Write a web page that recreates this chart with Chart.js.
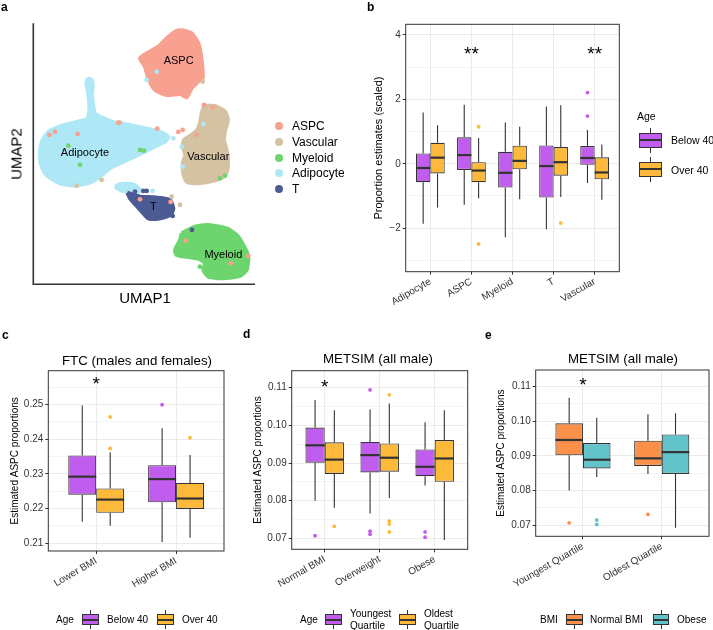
<!DOCTYPE html>
<html>
<head>
<title>ASPC proportions</title>
<script src="https://cdn.jsdelivr.net/npm/chart.js"></script>
<style>
    body { margin: 0; background: #fff; font-family: "Liberation Sans", Arial, sans-serif; }
    #fig { position: relative; width: 713px; height: 630px; overflow: hidden; }
    canvas { position: absolute; }
    .t { position: absolute; white-space: nowrap; color: #000; transform: translate(0, -50%); }
    .c { transform: translate(-50%, -50%); }
    .tag { font-weight: bold; font-size: 12px; }
    .dot { position: absolute; width: 8px; height: 8px; border-radius: 50%; margin: -4px 0 0 -4px; }
    .key { position: absolute; }
    .key .stem { position: absolute; left: 50%; top: 0; bottom: 0; width: 1px; margin-left: -0.5px; background: #333; }
    .key .box { position: absolute; left: 0; right: 0; box-sizing: border-box; border: 1px solid #333; }
    .key .med { position: absolute; left: 0; right: 0; top: 50%; height: 2px; margin-top: -1px; background: #333; }
</style>
</head>
<body>
<div id="fig">
    <canvas id="chartA" width="360" height="310" style="left:0;top:0"></canvas>
    <canvas id="chartB" width="353" height="310" style="left:360px;top:0"></canvas>
    <canvas id="chartC" width="240" height="300" style="left:0;top:330px"></canvas>
    <canvas id="chartD" width="240" height="300" style="left:240px;top:330px"></canvas>
    <canvas id="chartE" width="233" height="300" style="left:480px;top:330px"></canvas>

    <div class="t tag" style="left:1px;top:7px">a</div>
    <div class="t tag" style="left:367px;top:7px">b</div>
    <div class="t tag" style="left:2px;top:335px">c</div>
    <div class="t tag" style="left:243px;top:334px">d</div>
    <div class="t tag" style="left:485px;top:335px">e</div>

    <div class="t c" style="left:145px;top:297px;font-size:15px">UMAP1</div>
    <div class="t c" style="left:16px;top:154px;font-size:15px;transform:translate(-50%,-50%) rotate(-90deg)">UMAP2</div>

    <div class="t c" style="left:137px;top:360px;font-size:13.3px">FTC (males and females)</div>
    <div class="t c" style="left:378px;top:358px;font-size:13.3px">METSIM (all male)</div>
    <div class="t c" style="left:623px;top:358px;font-size:13.3px">METSIM (all male)</div>

    <div class="t" style="left:637px;top:116px;font-size:10.5px">Age</div>
    <div class="t" style="left:671px;top:140px;font-size:10.5px">Below 40</div>
    <div class="t" style="left:671px;top:170px;font-size:10.5px">Over 40</div>

    <div class="t" style="left:56px;top:619px;font-size:10px">Age</div>
    <div class="t" style="left:107px;top:619px;font-size:10px">Below 40</div>
    <div class="t" style="left:182px;top:619px;font-size:10px">Over 40</div>

    <div class="t" style="left:300px;top:619px;font-size:10px">Age</div>
    <div class="t" style="left:350px;top:613px;font-size:10px">Youngest</div>
    <div class="t" style="left:350px;top:625px;font-size:10px">Quartile</div>
    <div class="t" style="left:424px;top:613px;font-size:10px">Oldest</div>
    <div class="t" style="left:424px;top:625px;font-size:10px">Quartile</div>

    <div class="t" style="left:540px;top:619px;font-size:10px">BMI</div>
    <div class="t" style="left:590px;top:619px;font-size:10px">Normal BMI</div>
    <div class="t" style="left:677px;top:619px;font-size:10px">Obese</div>
</div>

<script>
    // ---------- data ----------
    // panel a: UMAP cluster outlines and stray cells, [UMAP1, UMAP2] in figure units
    const umapAdipocyte = [[258,245],[265,236],[275,240],[278,260],[276,280],[280,320],[285,340],[300,350],[340,366],[400,377],[450,388],[490,400],[505,412],[495,425],[475,435],[440,452],[400,472],[360,490],[330,505],[300,530],[270,548],[230,556],[190,553],[160,540],[135,520],[122,490],[120,455],[128,420],[150,392],[190,376],[230,366],[262,356],[268,330],[266,290],[262,265]];
    const umapAdipoTail = [[345,560],[360,553],[395,552],[410,560],[420,572],[400,577],[380,575],[360,570]];
    const umapASPC = [[545,90],[575,100],[595,130],[605,180],[608,235],[595,245],[575,265],[560,292],[540,282],[500,285],[465,270],[445,235],[435,200],[420,175],[440,160],[475,140],[500,115],[525,95]];
    const umapVascular = [[612,318],[645,318],[675,335],[684,360],[676,390],[672,420],[680,450],[684,480],[682,510],[672,530],[630,545],[590,550],[560,545],[550,520],[548,490],[556,465],[548,440],[552,420],[570,408],[590,392],[600,370],[605,340]];
    const umapT = [[382,578],[420,590],[460,592],[500,597],[512,602],[520,625],[515,640],[500,650],[470,657],[445,655],[430,640],[410,618],[390,595]];
    const umapMyeloid = [[545,700],[580,682],[620,675],[680,685],[710,705],[730,735],[745,770],[740,810],[720,828],[670,835],[625,830],[610,810],[615,790],[600,778],[570,772],[530,765],[525,750],[540,720]];

    const strayASPC = [[148,405],[165,395],[233,402],[355,368],[472,386],[535,396],[548,390],[590,405],[612,315],[638,322],[420,598],[512,606],[745,768],[692,790],[558,722]];
    const strayVascular = [[230,557],[305,540],[515,590],[540,615],[360,368],[608,245]];
    const strayMyeloid = [[205,437],[420,450],[432,452],[240,495],[660,535],[675,527],[600,800]];
    const strayAdipocyte = [[470,215],[440,240],[520,415],[545,440],[548,500],[610,372],[458,573]];
    const strayT = [[405,575],[430,573],[440,573],[518,648],[576,690]];

    const cellTypes = ['ASPC', 'Vascular', 'Myeloid', 'Adipocyte', 'T'];
    const cellColors = ['#F8A191', '#D4C2A3', '#6DD56D', '#AEE8F7', '#4C5B93'];
    const clusterLabels = ['ASPC', 'Vascular', 'Adipocyte', 'T', 'Myeloid'];
    const labelU1 = [536, 625, 255, 460, 670];
    const labelU2 = [183, 472, 458, 620, 765];

    // panel b: five-number summaries [low, q1, median, q3, high] per cell type
    const bCells = ['Adipocyte', 'ASPC', 'Myeloid', 'T', 'Vascular'];
    const bBelow40 = [[-1.86,-0.57,-0.13,0.32,1.59],[-1.27,-0.19,0.27,0.82,1.83],[-2.28,-0.74,-0.28,0.37,1.28],[-2.03,-1.05,-0.07,0.57,1.78],[-0.60,-0.03,0.18,0.55,1.05]];
    const bOver40 = [[-1.36,-0.30,0.19,0.65,1.20],[-1.07,-0.57,-0.21,0.05,0.80],[-1.10,-0.17,0.09,0.56,1.15],[-1.03,-0.37,0.05,0.52,1.82],[-1.12,-0.48,-0.27,0.20,0.60]];
    const bBelow40Out = [[], [], [], [], [2.21, 1.48]];
    const bOver40Out = [[], [1.15, -2.49], [], [-1.84], []];
    const bTicks = [-3, -2, -1, 0, 1, 2, 3, 4];
    const bTickLabels = ['', '\u22122', '', '0', '', '2', '', '4'];

    // panel c
    const cBmi = ['Lower BMI', 'Higher BMI'];
    const cBelow40 = [[0.2162,0.2240,0.2292,0.2353,0.2497],[0.2104,0.2218,0.2285,0.2325,0.2431]];
    const cOver40 = [[0.2151,0.2188,0.2226,0.2258,0.2362],[0.2116,0.2199,0.2229,0.2274,0.2354]];
    const cBelow40Out = [[], [0.2499]];
    const cOver40Out = [[0.2464, 0.2373], [0.2404]];
    const cTicks = [0.21, 0.215, 0.22, 0.225, 0.23, 0.235, 0.24, 0.245, 0.25, 0.255];
    const cTickLabels = ['0.21', '', '0.22', '', '0.23', '', '0.24', '', '0.25', ''];

    // panel d
    const dBmi = ['Normal BMI', 'Overweight', 'Obese'];
    const dYoungest = [[0.0800,0.0901,0.0947,0.0994,0.1067],[0.0766,0.0875,0.0921,0.0956,0.1042],[0.0840,0.0865,0.0890,0.0936,0.1008]];
    const dOldest = [[0.0781,0.0871,0.0909,0.0955,0.1040],[0.0807,0.0877,0.0914,0.0952,0.1058],[0.0696,0.0850,0.0912,0.0961,0.1040]];
    const dYoungestOut = [[0.0707], [0.1094, 0.0719, 0.0711], [0.0717, 0.0703]];
    const dOldestOut = [[0.0732], [0.1081, 0.0746, 0.0738, 0.0717], []];

    // panel e
    const eAge = ['Youngest Quartile', 'Oldest Quartile'];
    const eNormal = [[0.0800,0.0902,0.0946,0.0994,0.1068],[0.0848,0.0871,0.0893,0.0944,0.1020]];
    const eObese = [[0.0839,0.0864,0.0889,0.0937,0.1010],[0.0693,0.0848,0.0911,0.0962,0.1023]];
    const eNormalOut = [[0.0707], [0.0731]];
    const eObeseOut = [[0.0715, 0.0702], []];

    const metTicks = [0.07, 0.075, 0.08, 0.085, 0.09, 0.095, 0.10, 0.105, 0.11];
    const metTickLabels = ['0.07', '', '0.08', '', '0.09', '', '0.10', '', '0.11'];

    const purple = '#C15DEE', orange = '#FDBA3A', bmiOrange = '#FA9049', teal = '#62C3CB';

    Chart.defaults.font.family = '"Liberation Sans", Arial, sans-serif';
    Chart.defaults.color = '#333';

    // ---------- panel a ----------
    const umapPlugin = {
        id: 'umap',
        afterDatasetsDraw(chart) {
            const {ctx, chartArea: a, scales: {x, y}} = chart;
            ctx.save();
            ctx.strokeStyle = '#333';
            ctx.lineWidth = 1.6;
            ctx.beginPath();
            ctx.moveTo(a.left, a.top);
            ctx.lineTo(a.left, a.bottom);
            ctx.lineTo(a.right, a.bottom);
            ctx.stroke();
            ctx.fillStyle = '#000';
            ctx.font = '11px "Liberation Sans", Arial, sans-serif';
            ctx.textAlign = 'center';
            ctx.textBaseline = 'middle';
            clusterLabels.forEach((t, i) => {
                ctx.fillText(t, x.getPixelForValue(labelU1[i]), y.getPixelForValue(labelU2[i]));
            });
            ctx.restore();
        }
    };

    const pts = arr => arr.map(p => ({x: p[0], y: p[1]}));
    const blob = (arr, color) => ({
        data: pts(arr.concat([arr[0]])), showLine: true, fill: 'shape', tension: 0.2,
        backgroundColor: color, borderColor: color, borderWidth: 4, pointRadius: 0
    });
    const strays = (arr, color) => ({
        data: pts(arr), backgroundColor: color, borderWidth: 0, pointRadius: 2.4
    });

    new Chart(document.getElementById('chartA'), {
        type: 'scatter',
        data: {
            datasets: [
                strays(strayASPC, cellColors[0]),
                strays(strayVascular, cellColors[1]),
                strays(strayMyeloid, cellColors[2]),
                strays(strayAdipocyte, cellColors[3]),
                strays(strayT, cellColors[4]),
                blob(umapT, cellColors[4]),
                blob(umapAdipoTail, cellColors[3]),
                blob(umapMyeloid, cellColors[2]),
                blob(umapVascular, cellColors[1]),
                blob(umapASPC, cellColors[0]),
                blob(umapAdipocyte, cellColors[3])
            ]
        },
        options: {
            responsive: false,
            animation: false,
            layout: {padding: {left: 33.3, top: 23.3, right: 105, bottom: 25.7}},
            scales: {
                x: {display: false, min: 100, max: 765},
                y: {display: false, min: 70, max: 853, reverse: true}
            },
            plugins: {legend: {display: false}, tooltip: {enabled: false}}
        },
        plugins: [umapPlugin]
    });

    // legend for panel a
    const fig = document.getElementById('fig');
    cellTypes.forEach((name, i) => {
        const yy = 126 + i * 15.8;
        const d = document.createElement('div');
        d.className = 'dot';
        d.style.cssText = `left:279px;top:${yy}px;background:${cellColors[i]}`;
        fig.appendChild(d);
        const t = document.createElement('div');
        t.className = 't';
        t.style.cssText = `left:292px;top:${yy}px;font-size:12px`;
        t.textContent = name;
        fig.appendChild(t);
    });

    // ---------- box plots ----------
    const boxPlot = {
        id: 'boxPlot',
        beforeDatasetsDraw(chart) {
            const {ctx, scales: {y}} = chart;
            ctx.save();
            ctx.strokeStyle = '#333';
            ctx.lineWidth = 1.1;
            chart.data.datasets.forEach((ds, di) => {
                if (!ds.five) return;
                chart.getDatasetMeta(di).data.forEach((bar, i) => {
                    const s = ds.five[i];
                    ctx.beginPath();
                    ctx.moveTo(bar.x, y.getPixelForValue(s[0]));
                    ctx.lineTo(bar.x, y.getPixelForValue(s[1]));
                    ctx.moveTo(bar.x, y.getPixelForValue(s[3]));
                    ctx.lineTo(bar.x, y.getPixelForValue(s[4]));
                    ctx.stroke();
                });
            });
            ctx.restore();
        },
        afterDatasetsDraw(chart, args, opts) {
            const {ctx, chartArea: a, scales: {x, y}} = chart;
            ctx.save();
            ctx.strokeStyle = '#333';
            ctx.lineWidth = 2.2;
            chart.data.datasets.forEach((ds, di) => {
                if (!ds.five) return;
                chart.getDatasetMeta(di).data.forEach((bar, i) => {
                    const py = y.getPixelForValue(ds.five[i][2]);
                    ctx.beginPath();
                    ctx.moveTo(bar.x - bar.width / 2, py);
                    ctx.lineTo(bar.x + bar.width / 2, py);
                    ctx.stroke();
                });
            });
            // significance stars
            ctx.fillStyle = '#000';
            ctx.font = '19px "Liberation Sans", Arial, sans-serif';
            ctx.textAlign = 'center';
            ctx.textBaseline = 'middle';
            (opts.stars || []).forEach(s => {
                ctx.fillText(s.text, x.getPixelForValue(s.x), y.getPixelForValue(s.y) + 4);
            });
            ctx.lineWidth = 1;
            ctx.strokeRect(a.left, a.top, a.right - a.left, a.bottom - a.top);
            ctx.restore();
        }
    };

    function boxChart(id, o) {
        const datasets = [];
        o.groups.forEach(g => {
            datasets.push({
                type: 'bar',
                data: g.stats.map((s, i) => ({x: i + 1, y: [s[1], s[3]]})),
                five: g.stats,
                backgroundColor: g.color,
                borderColor: '#333',
                borderWidth: 1.1,
                borderSkipped: false,
                categoryPercentage: 0.7,
                barPercentage: 1,
                order: 2
            });
        });
        o.groups.forEach((g, gi) => {
            const off = (gi - (o.groups.length - 1) / 2) * 0.35;
            const outliers = [];
            g.out.forEach((vals, i) => vals.forEach(v => outliers.push({x: i + 1 + off, y: v})));
            datasets.push({
                type: 'scatter', data: outliers, backgroundColor: g.color,
                borderWidth: 0, pointRadius: 1.9, order: 0
            });
        });

        const isMajor = i => o.yLabels[i] !== '';
        new Chart(document.getElementById(id), {
            type: 'bar',
            data: {datasets},
            options: {
                responsive: false,
                animation: false,
                layout: {padding: {left: o.padL, top: o.top, right: o.right, bottom: 0}},
                scales: {
                    x: {
                        type: 'linear', min: 0.4, max: o.cats.length + 0.6, offset: false,
                        afterBuildTicks: s => { s.ticks = o.cats.map((c, i) => ({value: i + 1})); },
                        afterFit: s => { s.height = o.xH; },
                        ticks: {
                            autoSkip: false, minRotation: 30, maxRotation: 30, padding: 1,
                            color: '#333', font: {size: 10},
                            callback: (v, i) => o.cats[i]
                        },
                        grid: {color: '#EBEBEB', lineWidth: 1, tickLength: 3, tickColor: '#333', tickWidth: 1, offset: false},
                        border: {display: false}
                    },
                    y: {
                        min: o.yMin, max: o.yMax,
                        afterBuildTicks: s => { s.ticks = o.yTicks.map(v => ({value: v})); },
                        afterFit: s => { s.width = o.yW; },
                        ticks: {
                            autoSkip: false, padding: 2, color: '#333', font: {size: 10},
                            callback: (v, i) => o.yLabels[i]
                        },
                        grid: {
                            color: '#EBEBEB',
                            lineWidth: c => isMajor(c.index) ? 1 : 0.5,
                            tickLength: 3,
                            tickWidth: 1,
                            tickColor: c => isMajor(c.index) ? '#333' : 'rgba(0,0,0,0)'
                        },
                        border: {display: false},
                        title: {display: true, text: o.yTitle, padding: 0, color: '#000', font: {size: o.titleSize || 10}}
                    }
                },
                plugins: {
                    legend: {display: false},
                    tooltip: {enabled: false},
                    boxPlot: {stars: o.stars}
                }
            },
            plugins: [boxPlot]
        });
    }

    boxChart('chartB', {
        cats: bCells,
        groups: [
            {color: purple, stats: bBelow40, out: bBelow40Out},
            {color: orange, stats: bOver40, out: bOver40Out}
        ],
        yMin: -3.35, yMax: 4.33, yTicks: bTicks, yLabels: bTickLabels,
        yTitle: 'Proportion estimates (scaled)', titleSize: 11,
        stars: [{x: 2, y: 3.5, text: '**'}, {x: 5, y: 3.5, text: '**'}],
        padL: 12, yW: 33.7, top: 24.3, right: 93.7, xH: 38.3
    });

    boxChart('chartC', {
        cats: cBmi,
        groups: [
            {color: purple, stats: cBelow40, out: cBelow40Out},
            {color: orange, stats: cOver40, out: cOver40Out}
        ],
        yMin: 0.2078, yMax: 0.2597, yTicks: cTicks, yLabels: cTickLabels,
        yTitle: 'Estimated ASPC proportions',
        stars: [{x: 1, y: 0.2567, text: '*'}],
        padL: 9, yW: 39.3, top: 40.7, right: 16, xH: 79
    });

    boxChart('chartD', {
        cats: dBmi,
        groups: [
            {color: purple, stats: dYoungest, out: dYoungestOut},
            {color: orange, stats: dOldest, out: dOldestOut}
        ],
        yMin: 0.0671, yMax: 0.1145, yTicks: metTicks, yLabels: metTickLabels,
        yTitle: 'Estimated ASPC proportions',
        stars: [{x: 1, y: 0.1109, text: '*'}],
        padL: 12.3, yW: 39.4, top: 40.7, right: 12.3, xH: 80.7
    });

    boxChart('chartE', {
        cats: eAge,
        groups: [
            {color: bmiOrange, stats: eNormal, out: eNormalOut},
            {color: teal, stats: eObese, out: eObeseOut}
        ],
        yMin: 0.0668, yMax: 0.1148, yTicks: metTicks, yLabels: metTickLabels,
        yTitle: 'Estimated ASPC proportions',
        stars: [{x: 1, y: 0.1114, text: '*'}],
        padL: 15.7, yW: 40, top: 40, right: 2, xH: 93.7
    });

    // boxplot legend keys
    function legendKey(x, y, w, h, stub, color) {
        const k = document.createElement('div');
        k.className = 'key';
        k.style.cssText = `left:${x}px;top:${y}px;width:${w}px;height:${h + 2 * stub}px`;
        k.innerHTML = `<i class="stem"></i><b class="box" style="top:${stub}px;height:${h}px;background:${color}"><i class="med"></i></b>`;
        fig.appendChild(k);
    }
    legendKey(639.3, 128.3, 23, 14.4, 5, purple);
    legendKey(639.3, 157.3, 23, 14.4, 5, orange);
    legendKey(81.7, 610, 17, 11, 4, purple);
    legendKey(157, 610, 17, 11, 4, orange);
    legendKey(325, 610, 17, 11, 4, purple);
    legendKey(399, 610, 17, 11, 4, orange);
    legendKey(566, 610, 17, 11, 4, bmiOrange);
    legendKey(653, 610, 16, 11, 4, teal);
</script>
</body>
</html>
